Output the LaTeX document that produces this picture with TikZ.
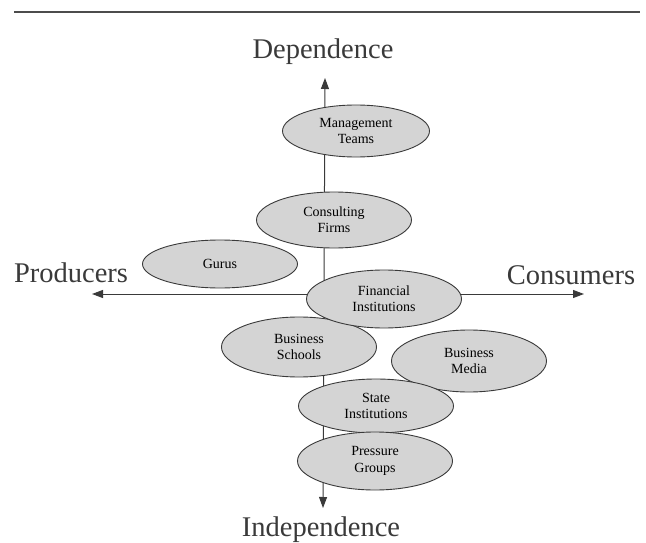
\documentclass[tikz,border=0pt]{standalone}
\usepackage{fontspec}
\setmainfont{Liberation Serif}
\usetikzlibrary{shapes.geometric,arrows.meta}
\definecolor{blobfill}{HTML}{D4D4D4}
\definecolor{inkgray}{HTML}{3A3A3A}
\begin{document}
\begin{tikzpicture}[x=1pt, y=-1pt,
  every node/.style={font=\fontsize{14}{16.3}\selectfont, align=center},
  actor/.style={ellipse, draw=inkgray, line width=0.9pt, fill=blobfill, inner sep=0pt,
    minimum width=155pt, minimum height=56pt},
  pole/.style={font=\fontsize{28.5}{30}\selectfont, text=inkgray},
  axis/.style={draw=inkgray, line width=1pt, {Triangle[length=11pt,width=8pt]}-{Triangle[length=11pt,width=8pt]}}]
  \useasboundingbox (0,0) rectangle (646,543);
  \draw[line width=2.5pt, gray!60!black] (14,12) -- (640,12);

  \coordinate (TopEnd) at (325,78);
  \coordinate (BottomEnd) at (323,508);
  \coordinate (LeftEnd) at (92,294);
  \coordinate (RightEnd) at (584,294);

  \draw[axis] (LeftEnd) -- (RightEnd);
  \draw[axis] (BottomEnd) -- (TopEnd);

  \node[pole] (dep) at (323,52) {Dependence};
  \node[pole] (indep) at (321,530) {Independence};
  \node[pole] (prod) at (71,273) {Producers};
  \node[pole] (cons) at (571,275) {Consumers};

  \node[actor, minimum width=147pt, minimum height=52pt] (mgmt) at (356,131) {Management\\Teams};
  \node[actor] (consult) at (334,220) {Consulting\\Firms};
  \node[actor, minimum height=48pt] (gurus) at (220,264) {Gurus};
  \node[actor, minimum height=60pt] (schools) at (299,347) {Business\\Schools};
  \node[actor, minimum height=58pt] (fin) at (384,299) {Financial\\Institutions};
  \node[actor, minimum height=62pt] (media) at (469,361) {Business\\Media};
  \node[actor, minimum height=54pt] (state) at (376,406) {State\\Institutions};
  \node[actor, minimum height=58pt] (pressure) at (375,461) {Pressure\\Groups};
\end{tikzpicture}
\end{document}
